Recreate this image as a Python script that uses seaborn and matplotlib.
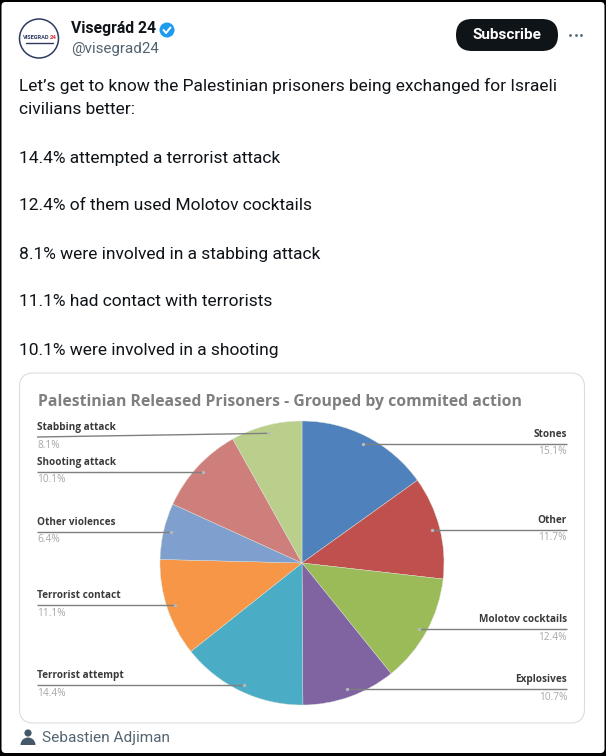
import numpy as np
import matplotlib
matplotlib.use("Agg")
import matplotlib.pyplot as plt
from matplotlib.patches import Circle, FancyBboxPatch, Wedge
import seaborn as sns

# chart data, clockwise from 12 o'clock
actions = ["Stones", "Other", "Molotov cocktails", "Explosives", "Terrorist attempt",
           "Terrorist contact", "Other violences", "Shooting attack", "Stabbing attack"]
shares = [15.1, 11.7, 12.4, 10.7, 14.4, 11.1, 6.4, 10.1, 8.1]
colors = ["#4F81BD", "#C0504D", "#9BBB59", "#8064A2", "#4BACC6",
          "#F79646", "#7F9FCE", "#CF7F7B", "#BBCF8C"]

chart_title = "Palestinian Released Prisoners - Grouped by commited action"
tweet_lines = ["Let\u2019s get to know the Palestinian prisoners being exchanged for Israeli",
               "civilians better:",
               "14.4% attempted a terrorist attack",
               "12.4% of them used Molotov cocktails",
               "8.1% were involved in a stabbing attack",
               "11.1% had contact with terrorists",
               "10.1% were involved in a shooting"]

sns.set_theme(style="white")
plt.rcParams["font.family"] = ["Roboto", "DejaVu Sans"]

W, H = 606, 756


def Y(py):
    # picture is measured from the top, axes from the bottom
    return H - py


fig = plt.figure(figsize=(W / 100, H / 100), dpi=100, facecolor="black")
ax = fig.add_axes([0, 0, 1, 1])

# white tweet panel and chart card
ax.add_patch(FancyBboxPatch((1.5, Y(753)), W - 3, 751, boxstyle="round,pad=0,rounding_size=4",
                            fc="white", ec="none", zorder=0))
ax.add_patch(FancyBboxPatch((19.5, Y(723)), 565, 350, boxstyle="round,pad=0,rounding_size=14",
                            fc="white", ec="#DADDE0", lw=0.8, zorder=0.5))

# pie
cx, cy, R = 302, 563, 142
ax.pie(shares, colors=sns.color_palette(colors), startangle=90, counterclock=False,
       center=(cx, Y(cy)), radius=R, frame=True,
       wedgeprops={"edgecolor": "#DDE3D8", "linewidth": 0.3})
ax.set_xlim(0, W)
ax.set_ylim(0, H)
ax.set_axis_off()

# leader lines start on a ring inside the pie, at the middle of each slice
mids = (np.cumsum(shares) - np.array(shares) / 2) / 100 * 2 * np.pi
ring = 134
line_y = [444, 530, 629, 689, 685, 605, 532, 472, 437]
for name, share, mid, ly in zip(actions, shares, mids, line_y):
    ax_x = cx + ring * np.sin(mid)
    ax_y = cy - ring * np.cos(mid)
    right = np.sin(mid) > 0
    edge = 567 if right else 37
    # only the stabbing leader runs at a slant
    end_y = ax_y if name == "Stabbing attack" else ly
    ax.plot([edge, ax_x], [Y(ly), Y(end_y)], color="#7F7F7F", lw=1, zorder=3, solid_capstyle="butt")
    ax.plot([ax_x], [Y(end_y)], "o", ms=2.4, color="#B5B9BE", mew=0, zorder=4)
    ha = "right" if right else "left"
    ax.text(edge, Y(ly - 4), name, ha=ha, va="bottom", fontsize=7.2, color="#3A3A3A",
            family="Open Sans", fontweight="bold", zorder=5)
    ax.text(edge, Y(ly + 2.5), f"{share}%", ha=ha, va="top", fontsize=7.3, color="#A8A8A8",
            family="Open Sans", zorder=5)

ax.text(38, Y(401.5), chart_title, ha="left", va="center", fontsize=11.35, fontweight="bold",
        color="#7F7F7F", family="Open Sans")

# tweet header
ax.add_patch(Circle((39, Y(38.5)), 19.5, fc="white", ec="#2E3A63", lw=1.1))
ax.text(36.5, Y(37.5), "VISEGRAD", ha="center", va="center", fontsize=4.1, fontweight="bold", color="#2E3A63")
ax.text(53, Y(37.5), "24", ha="center", va="center", fontsize=4.3, fontweight="bold", color="#D8343F")
ax.plot([26, 53], [Y(42.5), Y(42.5)], color="#2E3A63", lw=1)
ax.text(71, Y(28.5), "Visegr\u00e1d 24", ha="left", va="center", fontsize=11.3, fontweight="bold", color="#0F1419")
ax.add_patch(Circle((167, Y(30)), 7.5, fc="#1D9BF0", ec="none"))
ax.plot([163.5, 166, 170.5], [Y(30), Y(33), Y(27.5)], color="white", lw=1.4, solid_capstyle="round")
ax.text(71, Y(49), "@visegrad24", ha="left", va="center", fontsize=10.9, color="#536471")

ax.add_patch(FancyBboxPatch((456, Y(51)), 102, 32, boxstyle="round,pad=0,rounding_size=16",
                            fc="#0F1419", ec="none"))
ax.text(507, Y(35), "Subscribe", ha="center", va="center", fontsize=11, fontweight="bold", color="white")
for dot_x in (570, 575.5, 581):
    ax.plot([dot_x], [Y(35)], "o", ms=2, color="#536471", mew=0)

# tweet body
body_y = [86, 110, 158, 206, 254, 302, 350]
for line, by in zip(tweet_lines, body_y):
    ax.text(19, Y(by), line, ha="left", va="center", fontsize=12.5, color="#0F1419")

# credit under the chart
ax.add_patch(Circle((28, Y(733)), 3.6, fc="#44586A", ec="none"))
ax.add_patch(Wedge((28, Y(745)), 7.5, 0, 180, fc="#44586A", ec="none"))
ax.text(42, Y(738), "Sebastien Adjiman", ha="left", va="center", fontsize=11.1, color="#536471")

fig.savefig("out.png", dpi=100, facecolor="black")
